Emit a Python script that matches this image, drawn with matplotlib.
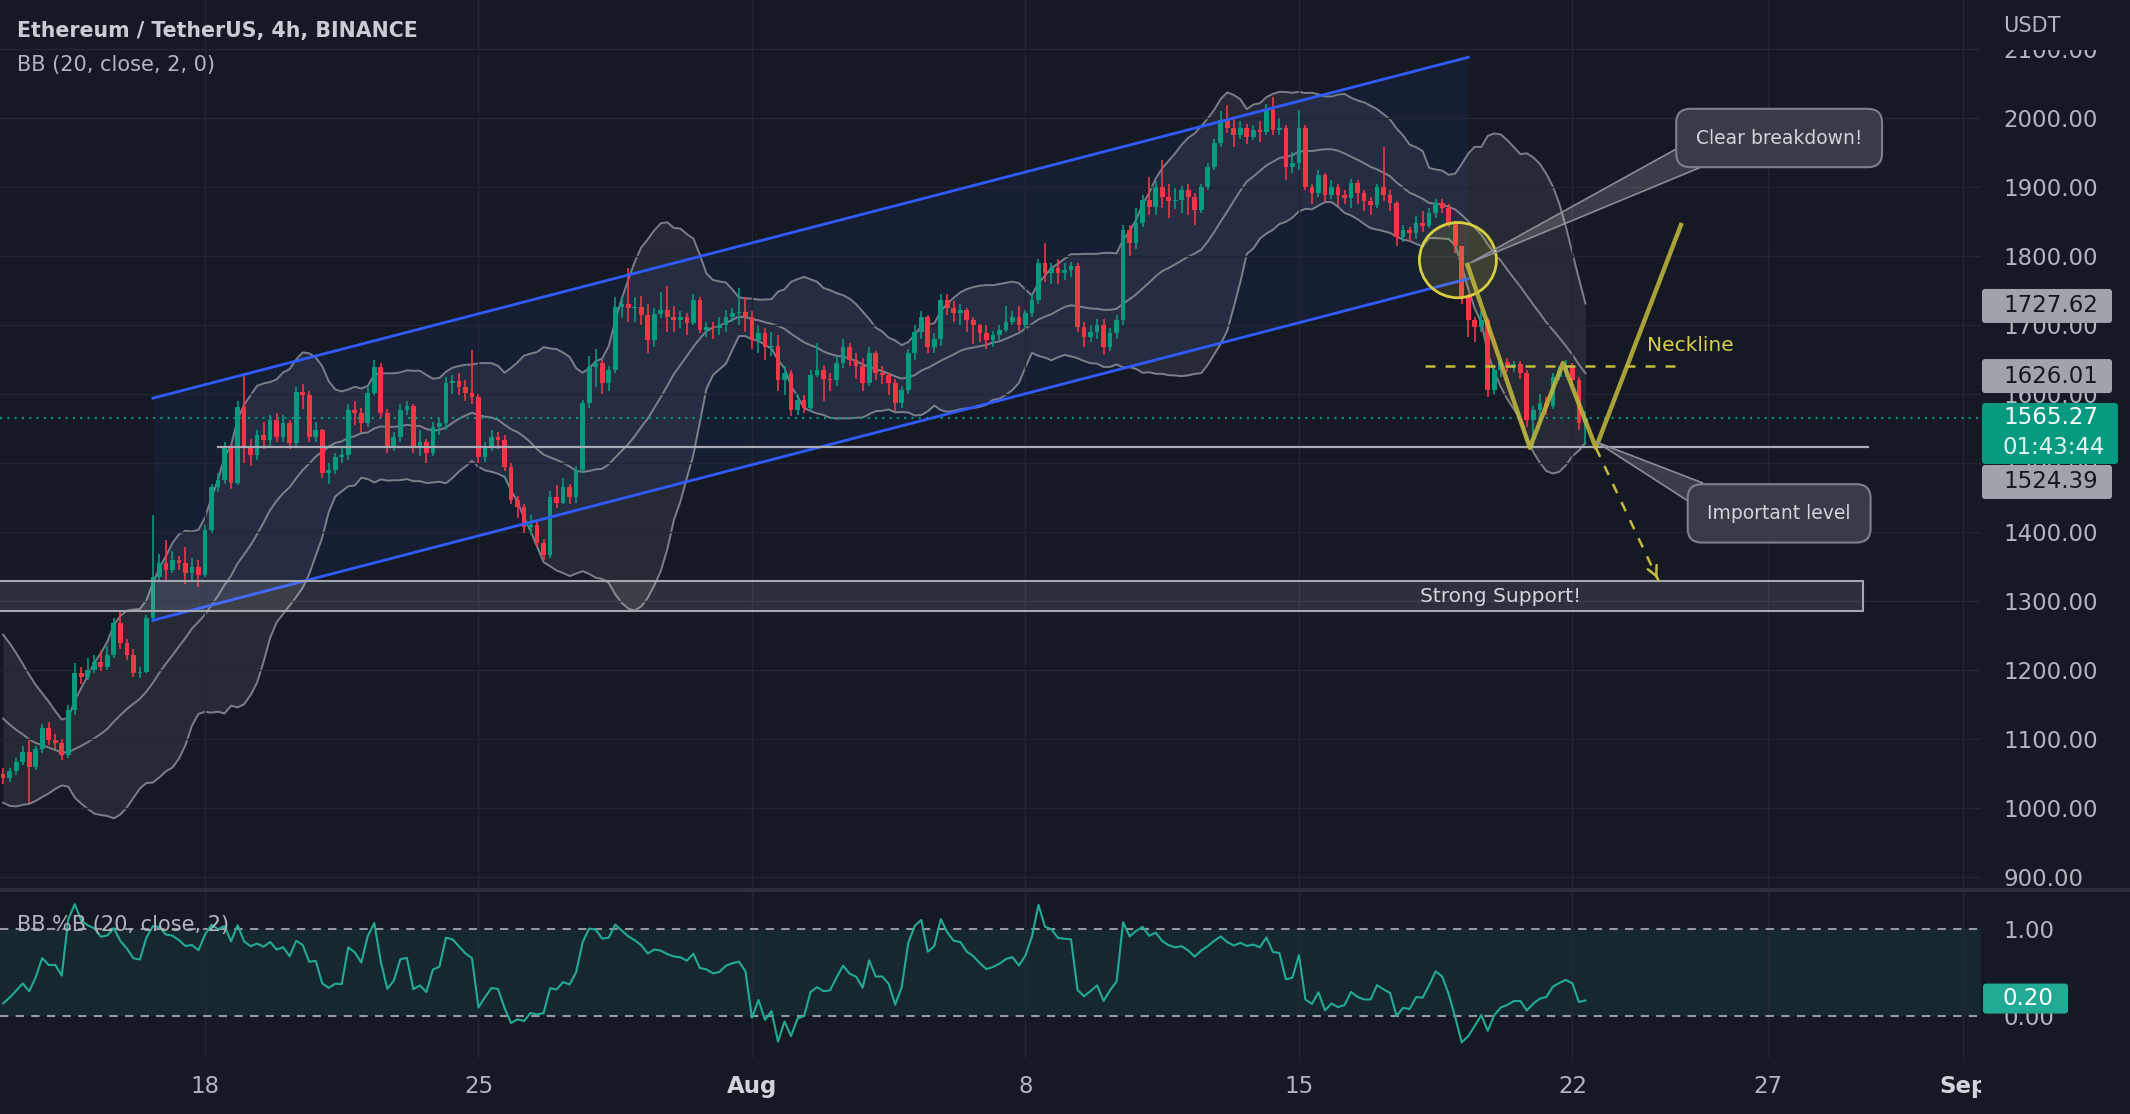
import numpy as np
import matplotlib.pyplot as plt
import matplotlib.dates as mdates
from matplotlib.patches import FancyBboxPatch, Polygon, Ellipse, Rectangle
from matplotlib.transforms import Bbox, TransformedBbox, IdentityTransform

#############################
# DATA  (ETHUSDT 4h)
#############################

# closes before the first visible bar, only needed for the 20 bar bands
hist_close = [1225, 1218,
              1212, 1205, 1190, 1180, 1168, 1165,
              1150, 1132, 1105, 1098, 1095, 1098,
              1080, 1072, 1060, 1050, 1045]
first_open = 1050
start_time = '2022-07-12T20:00'

close = [1043,
         1053, 1067, 1081, 1059, 1085, 1116,   # Jul 13
         1099, 1094, 1077, 1142, 1196, 1190,   # Jul 14
         1200, 1212, 1204, 1222, 1268, 1239,   # Jul 15
         1222, 1196, 1197, 1275, 1335, 1355,   # Jul 16
         1345, 1359, 1355, 1341, 1349, 1338,   # Jul 17
         1403, 1465, 1475, 1522, 1471, 1581,   # Jul 18
         1523, 1512, 1540, 1533, 1562, 1538,   # Jul 19
         1558, 1529, 1603, 1598, 1538, 1548,   # Jul 20
         1485, 1490, 1509, 1512, 1577, 1572,   # Jul 21
         1558, 1601, 1639, 1572, 1523, 1538,   # Jul 22
         1577, 1582, 1523, 1530, 1514, 1552,   # Jul 23
         1558, 1616, 1619, 1610, 1601, 1596,   # Jul 24
         1509, 1523, 1538, 1533, 1494, 1446,   # Jul 25
         1436, 1407, 1410, 1384, 1367, 1451,   # Jul 26
         1442, 1465, 1451, 1490, 1587, 1639,   # Jul 27
         1645, 1616, 1635, 1726, 1730, 1725,   # Jul 28
         1726, 1715, 1678, 1716, 1722, 1712,   # Jul 29
         1707, 1711, 1703, 1736, 1693, 1697,   # Jul 30
         1695, 1700, 1712, 1717, 1719, 1712,   # Jul 31
         1678, 1688, 1668, 1670, 1620, 1630,   # Aug 1
         1577, 1591, 1580, 1628, 1635, 1622,   # Aug 2
         1620, 1645, 1668, 1649, 1640, 1616,   # Aug 3
         1659, 1630, 1628, 1616, 1587, 1606,   # Aug 4
         1659, 1690, 1712, 1668, 1679, 1736,   # Aug 5
         1725, 1717, 1722, 1707, 1700, 1688,   # Aug 6
         1678, 1685, 1693, 1705, 1712, 1700,   # Aug 7
         1717, 1736, 1790, 1775, 1782, 1775,   # Aug 8
         1780, 1785, 1697, 1683, 1690, 1700,   # Aug 9
         1668, 1688, 1707, 1838, 1819, 1848,   # Aug 10
         1881, 1871, 1900, 1886, 1880, 1881,   # Aug 11
         1895, 1886, 1867, 1900, 1929, 1964,   # Aug 12
         1997, 1985, 1975, 1985, 1972, 1982,   # Aug 13
         1980, 2011, 1983, 1985, 1929, 1935,   # Aug 14
         1986, 1900, 1891, 1917, 1888, 1900,   # Aug 15
         1888, 1884, 1906, 1891, 1880, 1874,   # Aug 16
         1900, 1888, 1877, 1828, 1838, 1833,   # Aug 17
         1848, 1843, 1862, 1877, 1870, 1848,   # Aug 18
         1814, 1741, 1707, 1697, 1707, 1606,   # Aug 19
         1635, 1646, 1640, 1643, 1630, 1562,   # Aug 20
         1577, 1587, 1582, 1625, 1635, 1640,   # Aug 21
         1620, 1558, 1565.27]                  # Aug 22

high = [1058,
        1058, 1072, 1090, 1098, 1090, 1122,
        1125, 1108, 1100, 1150, 1210, 1205,
        1218, 1222, 1228, 1235, 1275, 1287,
        1245, 1230, 1205, 1280, 1425, 1368,
        1388, 1372, 1365, 1378, 1362, 1360,
        1410, 1470, 1485, 1530, 1528, 1590,
        1630, 1535, 1548, 1560, 1570, 1572,
        1570, 1562, 1610, 1614, 1605, 1560,
        1550, 1500, 1515, 1525, 1585, 1590,
        1580, 1610, 1650, 1645, 1578, 1545,
        1585, 1590, 1585, 1548, 1535, 1560,
        1565, 1625, 1628, 1630, 1620, 1664,
        1600, 1530, 1548, 1545, 1540, 1500,
        1452, 1440, 1425, 1415, 1390, 1460,
        1468, 1478, 1470, 1495, 1592, 1655,
        1665, 1650, 1640, 1740, 1740, 1783,
        1740, 1742, 1730, 1725, 1748, 1756,
        1728, 1720, 1718, 1745, 1740, 1705,
        1705, 1712, 1722, 1725, 1754, 1740,
        1720, 1700, 1695, 1690, 1685, 1640,
        1635, 1600, 1598, 1635, 1674, 1642,
        1630, 1655, 1680, 1674, 1660, 1652,
        1668, 1662, 1640, 1630, 1622, 1612,
        1665, 1700, 1720, 1715, 1688, 1745,
        1745, 1735, 1730, 1725, 1712, 1702,
        1700, 1692, 1700, 1728, 1720, 1728,
        1722, 1745, 1795, 1819, 1790, 1795,
        1790, 1792, 1790, 1705, 1700, 1708,
        1708, 1695, 1715, 1845, 1845, 1870,
        1888, 1914, 1908, 1939, 1905, 1898,
        1902, 1905, 1892, 1905, 1935, 1970,
        2010, 2019, 1998, 1995, 1992, 1990,
        1995, 2020, 2030, 2000, 1990, 1950,
        2011, 1990, 1905, 1925, 1920, 1910,
        1905, 1895, 1912, 1910, 1895, 1885,
        1905, 1958, 1895, 1880, 1845, 1842,
        1858, 1865, 1870, 1882, 1882, 1875,
        1850, 1815, 1745, 1712, 1720, 1710,
        1640, 1650, 1652, 1648, 1648, 1635,
        1582, 1600, 1595, 1630, 1640, 1649,
        1645, 1625, 1575]

low = [1035,
       1038, 1048, 1062, 1007, 1055, 1080,
       1092, 1085, 1070, 1072, 1135, 1180,
       1185, 1195, 1198, 1200, 1218, 1230,
       1215, 1190, 1188, 1195, 1270, 1330,
       1330, 1340, 1345, 1325, 1330, 1320,
       1335, 1398, 1458, 1470, 1462, 1468,
       1500, 1495, 1505, 1520, 1525, 1530,
       1530, 1520, 1525, 1578, 1530, 1530,
       1478, 1470, 1484, 1500, 1505, 1555,
       1545, 1552, 1598, 1565, 1515, 1518,
       1530, 1570, 1515, 1510, 1500, 1510,
       1540, 1548, 1600, 1598, 1590, 1585,
       1500, 1502, 1518, 1520, 1488, 1440,
       1420, 1398, 1395, 1378, 1359, 1362,
       1435, 1440, 1440, 1442, 1485, 1580,
       1610, 1600, 1605, 1630, 1710, 1705,
       1705, 1700, 1660, 1668, 1710, 1690,
       1690, 1695, 1685, 1700, 1688, 1682,
       1680, 1685, 1690, 1705, 1700, 1690,
       1665, 1660, 1650, 1655, 1605, 1598,
       1568, 1570, 1572, 1574, 1625, 1590,
       1605, 1612, 1638, 1640, 1622, 1605,
       1612, 1620, 1615, 1598, 1575, 1580,
       1600, 1650, 1680, 1660, 1660, 1670,
       1715, 1705, 1700, 1690, 1672, 1675,
       1665, 1668, 1678, 1690, 1700, 1692,
       1695, 1712, 1730, 1762, 1760, 1760,
       1765, 1770, 1690, 1668, 1675, 1680,
       1657, 1662, 1680, 1700, 1800, 1810,
       1842, 1860, 1860, 1870, 1855, 1868,
       1862, 1860, 1845, 1862, 1895, 1925,
       1958, 1978, 1958, 1970, 1962, 1968,
       1965, 1975, 1975, 1975, 1910, 1920,
       1925, 1895, 1875, 1885, 1880, 1882,
       1872, 1875, 1870, 1875, 1865, 1860,
       1870, 1880, 1865, 1815, 1820, 1822,
       1825, 1835, 1840, 1855, 1862, 1842,
       1805, 1730, 1683, 1675, 1690, 1595,
       1600, 1625, 1632, 1632, 1622, 1552,
       1523, 1560, 1570, 1578, 1620, 1625,
       1612, 1548, 1528]

# readouts shown on the price scale
bb_last = [1727.62, 1626.01, 1524.39]
last_price = 1565.27
countdown = '01:43:44'
pctb_last = '0.20'

# drawings on the chart (time, price)
channel_time = ['2022-07-16T16:00', '2022-08-19T08:00']
channel_upper = [1594, 2088]
channel_lower = [1272, 1767]
level_time = ['2022-07-18T08:00', '2022-08-29T13:40']
level_price = 1523
support_time = ['2022-07-10T00:00', '2022-08-29T10:30']
support_price = [1285, 1329]
support_label_time = '2022-08-20T03:40'
circle_time, circle_price = '2022-08-19T01:40', 1794
pattern_time = ['2022-08-19T07:10', '2022-08-20T21:50', '2022-08-21T18:15',
                '2022-08-22T14:25', '2022-08-24T19:10']
pattern_price = [1790, 1522, 1645, 1522, 1848]
neck_time = ['2022-08-18T05:30', '2022-08-24T16:20']
neck_price = 1641
neck_label_time = '2022-08-23T21:50'
target_time, target_price = '2022-08-24T05:00', 1329
callout1_time, callout1_price = '2022-08-27T07:00', 1971
callout1_tail = [('2022-08-19T09:10', 1790), ('2022-08-24T15:00', 1954),
                 ('2022-08-25T06:15', 1928)]
callout2_time, callout2_price = '2022-08-27T07:00', 1427
callout2_tail = [('2022-08-22T15:10', 1530), ('2022-08-24T22:20', 1446),
                 ('2022-08-25T08:10', 1471)]

tick_dates = ['2022-07-18', '2022-07-25', '2022-08-01', '2022-08-08',
              '2022-08-15', '2022-08-22', '2022-08-27', '2022-09-01']
tick_labels = ['18', '25', 'Aug', '8', '15', '22', '27', 'Sep']
price_ticks = list(range(900, 2101, 100))

#############################
# STYLE
#############################
BG = '#151924'
GRID = '#232733'
TXT = '#b2b5be'
UP, DOWN = '#089981', '#f23645'
BBC = '#8c8f98'
YEL = '#c4bb3c'
plt.rcParams['font.family'] = ['DejaVu Sans']

def dn(s):
    return mdates.date2num(np.datetime64(s))

#############################
# MAIN
#############################
W, H = 2130, 1114
fig = plt.figure(figsize=(W / 100, H / 100), dpi=100, facecolor=BG)
ax = fig.add_axes([0, 224 / H, 1981 / W, 890 / H], facecolor=BG)
axb = fig.add_axes([0, 56 / H, 1981 / W, 168 / H], facecolor=BG, sharex=ax)

c = np.array(close, dtype=float)
o = np.concatenate([[first_open], c[:-1]])
hi = np.array(high, dtype=float)
lo = np.array(low, dtype=float)
t = np.datetime64(start_time) + np.arange(len(c)) * np.timedelta64(4, 'h')
x = mdates.date2num(t)

# bollinger bands 20, 2
allc = np.array(hist_close + close, dtype=float)
win = np.lib.stride_tricks.sliding_window_view(allc, 20)
basis = win.mean(axis=1)
dev = win.std(axis=1)
upper = basis + 2 * dev
lower = basis - 2 * dev
pctb = (c - lower) / (upper - lower)

ax.fill_between(x, lower, upper, color='white', alpha=0.075, lw=0, zorder=1)
for band in (upper, basis, lower):
    ax.plot(x, band, color=BBC, lw=1.4, alpha=0.85, zorder=1.5)

# channel
cx = [dn(s) for s in channel_time]
ax.fill_between(cx, channel_lower, channel_upper, color='#2962ff', alpha=0.07, lw=0, zorder=1)
ax.plot(cx, channel_upper, color='#2f5bff', lw=2, zorder=5)
ax.plot(cx, channel_lower, color='#2f5bff', lw=2, zorder=5)

# candles
cols = np.where(c >= o, UP, DOWN)
ax.vlines(x, lo, hi, colors=cols, lw=1.2, zorder=3)
ax.bar(x, np.maximum(np.abs(c - o), 1.5), bottom=np.minimum(o, c), width=0.12,
       color=cols, lw=0, zorder=4)

# last price line
ax.axhline(last_price, color=UP, ls=(0, (1, 2.5)), lw=1.5, zorder=2)

# support zone
sx = [dn(s) for s in support_time]
ax.add_patch(Rectangle((sx[0], support_price[0]), sx[1] - sx[0],
                       support_price[1] - support_price[0],
                       fc=(1, 1, 1, 0.1), ec='#a4a7b0', lw=1.5, zorder=6))
ax.text(dn(support_label_time), sum(support_price) / 2, 'Strong Support!',
        color='#d1d4dc', fontsize=14.5, ha='center', va='center', zorder=7)

# important level
ax.plot([dn(s) for s in level_time], [level_price] * 2, color='#a9acb5', lw=1.6, zorder=6)

# circle around the breakdown
ax.add_patch(Ellipse((dn(circle_time), circle_price), 1.97, 109,
                     fc=(0.95, 0.9, 0.2, 0.12), ec='#d8cf3f', lw=2, zorder=6))

# double bottom pattern
ax.plot([dn(s) for s in pattern_time], pattern_price, color=YEL, lw=3.2,
        alpha=0.85, solid_capstyle='butt', zorder=7)
ax.plot([dn(s) for s in neck_time], [neck_price] * 2, color=YEL, lw=1.8,
        ls=(0, (4, 4)), zorder=7)
ax.text(dn(neck_label_time), neck_price + 29, 'Neckline', color='#d8cf4a',
        fontsize=14.5, ha='left', va='center', zorder=7)
sx0, sy0 = dn(pattern_time[3]), pattern_price[3]
tx, ty = dn(target_time), target_price
ax.plot([sx0, tx], [sy0, ty], color=YEL, lw=1.8, ls=(0, (4, 4)), zorder=7)
ax.annotate('', xy=(tx, ty), xytext=(tx - (tx - sx0) * 0.05, ty - (ty - sy0) * 0.05),
            arrowprops=dict(arrowstyle='->,head_length=0.7,head_width=0.35',
                            color=YEL, lw=1.8), zorder=7)

# callouts
for bt, bp, tail, label in [(callout1_time, callout1_price, callout1_tail, 'Clear breakdown!'),
                            (callout2_time, callout2_price, callout2_tail, 'Important level')]:
    ax.add_patch(Polygon([(dn(s), p) for s, p in tail], closed=True,
                         fc=(1, 1, 1, 0.16), ec='#8a8d96', lw=1.2, zorder=8))
    ax.text(dn(bt), bp, label, color='#d1d4dc', fontsize=13.5, ha='center', va='center',
            zorder=9, bbox=dict(boxstyle='round,pad=1.05,rounding_size=0.75',
                                fc='#393c46', ec='#7d808a', lw=1.5))

ax.set_ylim(881.2, 2171)
ax.set_xlim(dn('2022-07-12T18:04'), dn('2022-09-01T11:00'))
ax.set_yticks(price_ticks)
ax.set_yticklabels(['%.2f' % p for p in price_ticks])
ax.yaxis.tick_right()
ax.set_xticks([dn(s) for s in tick_dates])
ax.tick_params(axis='x', labelbottom=False, length=0)
ax.tick_params(axis='y', length=0, pad=16, labelsize=16.5, labelcolor=TXT)
ax.grid(True, color=GRID, lw=1, zorder=0)
for sp in ax.spines.values():
    sp.set_visible(False)

# %B pane
axb.axhspan(0, 1, color='#26a69a', alpha=0.1, lw=0)
axb.axhline(1, color='#9598a1', lw=1.5, ls=(0, (4, 3.5)))
axb.axhline(0, color='#9598a1', lw=1.5, ls=(0, (4, 3.5)))
axb.plot(x, pctb, color='#22ab94', lw=1.5, zorder=3)
axb.set_ylim(-0.483, 1.448)
axb.set_yticks([0, 1])
axb.set_yticklabels(['0.00', '1.00'])
axb.yaxis.tick_right()
axb.tick_params(axis='y', length=0, pad=16, labelsize=16.5, labelcolor=TXT)
axb.set_xticks([dn(s) for s in tick_dates])
axb.set_xticklabels(tick_labels)
axb.tick_params(axis='x', length=0, pad=12, labelsize=16.5, labelcolor=TXT)
axb.grid(True, axis='x', color=GRID, lw=1, zorder=0)
for sp in axb.spines.values():
    sp.set_visible(False)
clip = TransformedBbox(Bbox([[0, -1], [1, 1]]), axb.transAxes)
for lbl in axb.get_xticklabels():
    if lbl.get_text() in ('Aug', 'Sep'):
        lbl.set_fontweight('bold')
        lbl.set_color('#d1d4dc')
    lbl.set_clip_box(clip)
    lbl.set_clip_on(True)

# figure level decorations (pixel coordinates, y from the top)
px = IdentityTransform()

def rect(x0, y0, x1, y1, fc, rounding=0, z=5):
    fig.add_artist(FancyBboxPatch((x0, H - y1), x1 - x0, y1 - y0,
                                  boxstyle='round,pad=0,rounding_size=%g' % rounding,
                                  fc=fc, ec='none', transform=px, zorder=z))

def ftext(x0, y0, s, **kw):
    fig.text(x0, H - y0, s, transform=px, va='center', **kw)

rect(0, 888, W, 892, '#2a2e39', z=4)
# price scale header hides the top half of the 2100 label
rect(1982, 0, W, 50, BG, z=4)
ftext(2003, 26, 'USDT', color=TXT, fontsize=15, zorder=6)
ftext(17, 31, 'Ethereum / TetherUS, 4h, BINANCE', color='#c9ccd4', fontsize=14.8,
      fontweight='bold')
ftext(17, 65, 'BB (20, close, 2, 0)', color=TXT, fontsize=15)
ftext(17, 925, 'BB %B (20, close, 2)', color=TXT, fontsize=15, zorder=6)

def ypix(axis, v):
    return H - axis.transData.transform((0, v))[1]

y_up, y_mid = ypix(ax, bb_last[0]), ypix(ax, bb_last[1])
y_last = ypix(ax, last_price)
for yc, v in [(y_up, bb_last[0]), (y_mid, bb_last[1])]:
    rect(1982, yc - 17, 2112, yc + 17, '#a0a3ab', rounding=3)
    ftext(2003, yc, '%.2f' % v, color='#131722', fontsize=16.5, zorder=6)
rect(1982, y_last - 15, 2118, y_last + 46, UP, rounding=3)
ftext(2003, y_last, '%.2f' % last_price, color='white', fontsize=16.5, zorder=6)
ftext(2003, y_last + 30, countdown, color='#dff3ef', fontsize=16.5, zorder=6)
y_lo = y_last + 46 + 18
rect(1982, y_lo - 17, 2112, y_lo + 17, '#a0a3ab', rounding=3)
ftext(2003, y_lo, '%.2f' % bb_last[2], color='#131722', fontsize=16.5, zorder=6)
y_pb = ypix(axb, float(pctb_last))
rect(1983, y_pb - 15, 2068, y_pb + 15, '#22ab94', rounding=3)
ftext(2003, y_pb, pctb_last, color='white', fontsize=16.5, zorder=6)

fig.savefig('out.png', dpi=100, facecolor=BG)
plt.close(fig)
